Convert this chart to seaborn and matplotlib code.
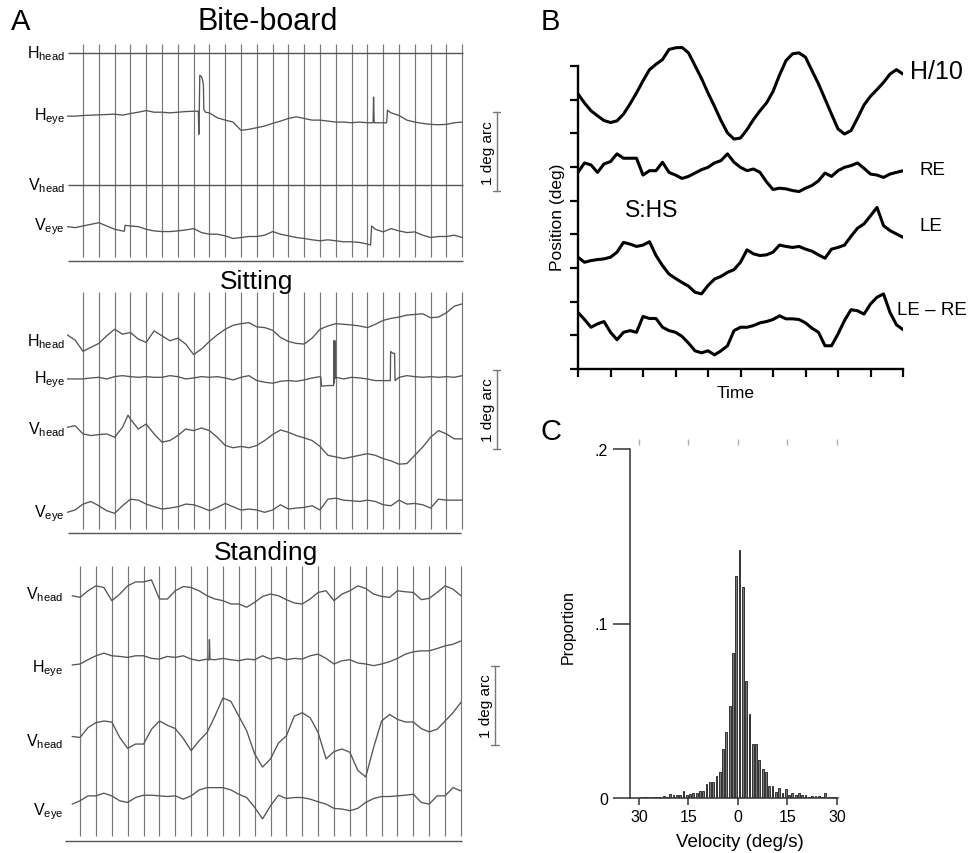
import numpy as np
import matplotlib
matplotlib.use('Agg')
import matplotlib.pyplot as plt
import seaborn as sns

# ── DATA ─────────────────────────────────────────────────────
# Panel A: chart-paper traces, offsets from each channel level in arc minutes
# sampled every half division (divisions 0..25)
t_half = np.arange(0, 25.01, 0.5)
bb_heye = [0, 0, 0.5, 0.75, 1, 1.25, 1.5, 0.75, 2, 3, 4.25, 3, 3, 2.5, 3, 3.5, 3.75, 30, 2.5,
           -1.25, -3, -4.5, -10.75, -10, -8.75, -7.5, -5.5, -3.75, -1.75, -0.5, -1.75, -3, -3,
           -3.75, -4.5, -4.5, -5, -4.5, -5, -5, -5, 2.5, 0.5, -3, -4.5, -5.5, -6.25, -6.5, -6.25,
           -5, -4.5]
bb_heye_spk_t = [8.30, 8.33, 8.36, 8.39, 8.58, 8.62, 8.65, 8.75, 19.36, 19.39, 19.43, 20.22, 20.27]
bb_heye_spk_v = [3.75, -13.75, 4, 31, 27, 23.5, 5, 3, -5, 14.5, -5, -5, 4.5]
bb_veye = [-0.5, -1.25, 0, 1.25, 2.5, 0, -2.5, -3.75, 0, -0.5, -2.5, -3.75, -4.25, -4.25, -3.75,
           -3, -2, -5, -6.25, -6.25, -7.5, -9.5, -8.75, -8, -8, -7, -4.25, -6.25, -7.5, -8.75,
           -9.5, -10.5, -11.25, -10.5, -11.25, -12, -12, -12.5, -13.75, -2.5, -4.5, -2, -3.75,
           -5, -4.5, -7, -8.75, -8, -8, -7, -8.75]
bb_veye_spk_t = [3.62, 3.66, 19.2, 19.27]
bb_veye_spk_v = [-4, 0.5, -14.5, 0]

sit_hhead = [4.5, 0.5, -8, -5, -2, 3.75, 8.75, 5, 6.25, 1.25, -1.25, 7.5, 3.75, 0, 2, -2.5, -10.5,
             -6.25, -0.5, 4.5, 8.75, 11.75, 13, 13.75, 10.5, 10, 8, 2.5, -0.5, -2, -2.5, 2, 8.75,
             11.25, 13, 12.5, 12, 11.25, 10, 12.5, 15.5, 17, 18, 19.5, 20, 20.5, 17.5, 18, 21.25,
             26.25, 28]
sit_heye = [0, 0, 0, 0.75, 1.25, 0, 1.75, 2.5, 1.75, 1.25, 1.75, 1.25, 1.25, 2.5, 1.75, 0, 0.75,
            1.75, 1.25, 1.75, 0.75, -0.75, 1.25, 2.5, -1.25, -2.5, -3.25, -1.75, -1.25, -1.75,
            -0.75, 0.75, 1.75, -5, 1.25, 0, 1.25, 0.75, 0, -1.25, -1.25, 20.5, 1.25, 2.5, 1.75,
            1.25, 1.75, 1.25, 1.75, 1.25, 2.5]
sit_heye_spk_t = [16.05, 16.1, 16.86, 16.88, 16.91, 16.94, 16.97, 20.45, 20.47, 20.6, 20.72, 20.75]
sit_heye_spk_v = [1.5, -5.5, -5, 29, -3, 29, 0.5, -1.25, 20.75, 19.5, 19.5, -1.25]
sit_vhead = [1.25, 2.5, -3.75, -5, -4.25, -3.75, -6.25, 1.25, 7.5, 0, 3.75, -3.75, -10, -8.75, -5,
             0, -1.25, 0.75, -1.25, -6.25, -12.5, -14.25, -13.25, -14.25, -12.5, -8.75, -4.25,
             -0.75, -2.5, -5, -6.75, -8.75, -13.25, -20, -21.25, -22.5, -21.25, -20, -18.75, -20,
             -22.5, -24.25, -26.75, -26.25, -20, -13.75, -6.25, -1.25, -3.75, -7.5, -7.5]
sit_vhead_spk_t = [3.85]
sit_vhead_spk_v = [10.5]
sit_veye = [0, 1.75, 6.25, 8.25, 5, 1.25, -0.75, 5, 10, 9.25, 6.25, 4.25, 2.5, 3.25, 4.25, 6.25,
            5.75, 3.75, 1.25, 3.75, 6.75, 4.25, 1.75, 2.5, 1.75, 0, 1.75, 5.75, 2.5, 3.25, 3.75,
            5, 1.75, 10, 10.75, 9.25, 8.75, 8.25, 9.25, 8.25, 5.75, 5, 9.25, 6.25, 6.75, 5.75,
            3.25, 10, 9.25, 9.25, 9.25]

t_stand = np.arange(0.5, 25.01, 0.5)
st_vhead1 = [-1.25, -2.5, 2.5, 6.25, 5, -5, 0, 6.25, 9.25, 9.25, 10.75, -3.75, -3.75, 2.5, 5.75,
             5, 2.5, -1.25, -3.75, -5, -7.5, -7.5, -10, -6.25, -1.75, 0, -1.25, -4.25, -6.75,
             -7.5, -3.75, 1.25, 2.5, -5, 0, 2.5, 6.25, 4.25, 0, -1.75, -2.5, 2.5, 1.75, 1.25,
             -4.25, -3.25, 1.25, 6.25, 3.75, -1.25]
st_heye = [1.75, 2.5, 5.75, 8.75, 10.75, 8.75, 8.25, 7.5, 8.75, 8.75, 6.75, 6.25, 8.25, 7.5, 8.75,
           6.25, 5, 6.25, 5.75, 6.75, 5.75, 5, 6.25, 5.75, 8.75, 6.25, 7.5, 5.75, 6.75, 6.25,
           8.75, 10, 6.75, 2.5, 5, 5.75, 3.25, 2.5, 1.25, 2.5, 4.25, 6.75, 10, 11.75, 12.5, 12.5,
           14.25, 16.25, 17.5, 20]
st_heye_spk_t = [9.12, 9.15, 9.19]
st_heye_spk_v = [5.5, 21, 6]
st_vhead2 = [3.25, 2.5, 10, 13.75, 15, 14.25, 2.5, -5.75, -2.5, -2.5, 8.75, 15, 11.75, 9.25, 1.75,
             -7.5, 0, 6.25, 18.75, 32.5, 30, 18.75, 7.5, -10, -20, -13.75, -1.75, 3.75, 18.75,
             21.25, 17.5, 6.25, -13.75, -8.25, -6.25, -8.75, -22.5, -27.5, -5, 15, 20, 16.25,
             14.25, 14.25, 9.25, 6.75, 8.75, 15, 21.25, 29.25]
st_veye = [5, 7.5, 11.25, 11.25, 13.25, 11.25, 7.5, 6.25, 10, 11.75, 11.75, 11.25, 10.75, 11.25,
           8.75, 11.25, 15.75, 17.5, 17.5, 17.5, 15.75, 12.5, 10, 2.5, -6.25, 3.75, 11.75, 9.25,
           10, 10, 8.75, 6.75, 5, 1.75, 1.25, 0, 1.75, 6.25, 9.25, 10.75, 10.75, 11.25, 11.75,
           12.5, 6.25, 5, 11.25, 11.25, 17.5, 15]
scale_arcmin = 60  # 1 deg arc

# Panel B: position traces (axis tick units), time 0..10
t_b = np.arange(0, 10.01, 0.2)
h_10 = [8.17, 7.90, 7.67, 7.52, 7.38, 7.32, 7.37, 7.57, 7.87, 8.20, 8.56, 8.89, 9.05, 9.19, 9.49,
        9.54, 9.55, 9.39, 9.01, 8.63, 8.20, 7.80, 7.38, 7.01, 6.83, 6.86, 7.11, 7.41, 7.67, 7.90,
        8.24, 8.73, 9.16, 9.36, 9.39, 9.26, 8.86, 8.47, 8.02, 7.57, 7.13, 6.98, 7.08, 7.45, 7.84,
        8.10, 8.30, 8.51, 8.76, 8.89, 8.76]
re = [5.84, 6.12, 6.06, 5.84, 6.09, 6.16, 6.39, 6.26, 6.26, 6.26, 5.76, 5.89, 5.89, 6.14, 5.84,
      5.76, 5.66, 5.72, 5.82, 5.92, 5.99, 6.12, 6.19, 6.39, 6.14, 5.99, 5.89, 5.94, 5.84, 5.56,
      5.33, 5.37, 5.35, 5.30, 5.27, 5.37, 5.45, 5.59, 5.82, 5.72, 5.89, 5.99, 6.04, 6.12, 5.96,
      5.79, 5.76, 5.69, 5.79, 5.84, 5.89]
le = [3.32, 3.17, 3.22, 3.25, 3.27, 3.32, 3.47, 3.76, 3.71, 3.64, 3.68, 3.78, 3.37, 3.07, 2.82,
      2.69, 2.57, 2.46, 2.28, 2.23, 2.48, 2.67, 2.75, 2.87, 2.95, 3.17, 3.54, 3.42, 3.37, 3.39,
      3.47, 3.68, 3.64, 3.61, 3.64, 3.56, 3.50, 3.39, 3.29, 3.56, 3.61, 3.68, 3.94, 4.18, 4.31,
      4.55, 4.80, 4.26, 4.11, 4.01, 3.91]
le_re = [1.68, 1.47, 1.24, 1.34, 1.41, 1.09, 0.87, 1.09, 1.14, 1.09, 1.56, 1.50, 1.50, 1.24, 1.14,
         1.09, 0.97, 0.77, 0.54, 0.48, 0.54, 0.42, 0.54, 0.69, 1.14, 1.24, 1.24, 1.29, 1.37, 1.41,
         1.47, 1.58, 1.49, 1.49, 1.47, 1.37, 1.21, 1.09, 0.69, 0.69, 1.04, 1.44, 1.76, 1.73, 1.63,
         1.93, 2.13, 2.23, 1.68, 1.31, 1.17]

# Panel C: velocity histogram, 1 deg/s bins from -30 to 30
vel_centers = np.arange(-29.5, 30, 1.0)
proportion = [0.0003, 0.0004, 0.0004, 0.0005, 0.0005, 0.0005, 0.0008, 0.0012, 0.0008, 0.0025,
              0.002, 0.002, 0.0015, 0.004, 0.002, 0.0025, 0.003, 0.003, 0.004, 0.0042,
              0.008, 0.009, 0.009, 0.0128, 0.015, 0.028, 0.0377, 0.053, 0.083, 0.127,
              0.142, 0.121, 0.067, 0.048, 0.031, 0.031, 0.022, 0.0166, 0.015, 0.007,
              0.007, 0.0035, 0.006, 0.003, 0.005, 0.002, 0.003, 0.0015, 0.003, 0.002,
              0.0015, 0.0005, 0.001, 0.001, 0.001, 0.0005, 0.003, 0.0005, 0.0003, 0.0003]
vel_ticks = [-30, -15, 0, 15, 30]
vel_ticklabels = ['30', '15', '0', '15', '30']

# ── STYLE ────────────────────────────────────────────────────
sns.set_theme(style='ticks')
plt.rcParams['font.family'] = ['Liberation Sans', 'DejaVu Sans']
plt.rcParams['mathtext.fontset'] = 'custom'
plt.rcParams['mathtext.rm'] = 'Liberation Sans'
plt.rcParams['mathtext.default'] = 'regular'
plt.rcParams['text.color'] = 'black'
plt.rcParams['axes.labelcolor'] = 'black'
plt.rcParams['xtick.labelcolor'] = 'black'
plt.rcParams['ytick.labelcolor'] = 'black'

W, H = 975, 854
fig = plt.figure(figsize=(W / 100, H / 100), dpi=100)
fig.patch.set_facecolor('white')


def px_axes(left, top, right, bottom):
    return fig.add_axes([left / W, 1 - bottom / H, (right - left) / W, (bottom - top) / H])


def ftext(x, y, s, **kw):
    fig.text(x / W, 1 - y / H, s, **kw)


def merged(t, v, st=(), sv=()):
    x = np.concatenate([np.asarray(t, float), np.asarray(st, float)])
    y = np.concatenate([np.asarray(v, float), np.asarray(sv, float)])
    o = np.argsort(x, kind='stable')
    return x[o], y[o]


PX_ARCMIN = 79 / 60
TRACE = '#555555'
GRID = '#777777'


def record_axes(g0_px, div_px, base_px, ytop):
    ax = px_axes(g0_px, base_px - ytop * PX_ARCMIN, g0_px + div_px * 25.1, base_px + 2 * PX_ARCMIN)
    ax.set_xlim(0, 25.1)
    ax.set_ylim(-2, ytop)
    ax.axis('off')
    return ax


def draw_trace(ax, t, vals, level, st=(), sv=()):
    x, y = merged(t, vals, st, sv)
    sns.lineplot(x=x, y=y + level, ax=ax, color=TRACE, lw=0.95, estimator=None, sort=False)


def scale_bar(ax, xg, y0, text_x):
    ax.plot([xg, xg], [y0, y0 + scale_arcmin], color=GRID, lw=1.0, clip_on=False)
    for yy in (y0, y0 + scale_arcmin):
        ax.plot([xg - 0.28, xg + 0.22], [yy, yy], color=GRID, lw=1.0, clip_on=False)
    ax.text(text_x, y0 + scale_arcmin / 2, '1 deg arc', rotation=90, ha='center', va='center',
            fontsize=11)


LAB = 11.5
H_HEAD = 'H$_{head}$'
H_EYE = 'H$_{eye}$'
V_HEAD = 'V$_{head}$'
V_EYE = 'V$_{eye}$'

# ── PANEL A — Bite-board ─────────────────────────────────────
ax1 = record_axes(67.2, 15.8, 262, 168)
ax1.vlines(np.arange(1, 26), 3, 165, color=GRID, lw=0.85)
ax1.hlines([0, 158, 57.7], 0.05, 25.05, color='#555555', lw=1.0)
draw_trace(ax1, t_half, bb_heye, 110, bb_heye_spk_t, bb_heye_spk_v)
draw_trace(ax1, t_half, bb_veye, 26.6, bb_veye_spk_t, bb_veye_spk_v)
for lev, lab in [(158, H_HEAD), (110, H_EYE), (57.7, V_HEAD), (26.6, V_EYE)]:
    ax1.text(-0.15, lev, lab, ha='right', va='center', fontsize=LAB)
scale_bar(ax1, 27.2, 53, 26.65)

# ── PANEL A — Sitting ────────────────────────────────────────
ax2 = record_axes(67.2, 15.8, 534, 190)
ax2.vlines(np.arange(1, 26), 3, 183, color=GRID, lw=0.85)
ax2.hlines(0, 0.05, 24.95, color='#555555', lw=1.0)
draw_trace(ax2, t_half, sit_hhead, 146)
draw_trace(ax2, t_half, sit_heye, 117, sit_heye_spk_t, sit_heye_spk_v)
draw_trace(ax2, t_half, sit_vhead, 79, sit_vhead_spk_t, sit_vhead_spk_v)
draw_trace(ax2, t_half, sit_veye, 15.7)
for lev, lab in [(146, H_HEAD), (117, H_EYE), (79, V_HEAD), (15.7, V_EYE)]:
    ax2.text(-0.15, lev, lab, ha='right', va='center', fontsize=LAB)
scale_bar(ax2, 27.2, 64, 26.65)

# ── PANEL A — Standing ───────────────────────────────────────
ax3 = record_axes(64.2, 15.87, 841.7, 212)
ax3.vlines(np.arange(1, 26), 3.6, 209, color=GRID, lw=0.85)
ax3.hlines(0, 0.05, 25.05, color='#555555', lw=1.0)
draw_trace(ax3, t_stand, st_vhead1, 187.3)
draw_trace(ax3, t_stand, st_heye, 131.7, st_heye_spk_t, st_heye_spk_v)
draw_trace(ax3, t_stand, st_vhead2, 75.9)
draw_trace(ax3, t_stand, st_veye, 22.8)
for lev, lab in [(187.3, V_HEAD), (131.7, H_EYE), (75.9, V_HEAD), (22.8, V_EYE)]:
    ax3.text(-0.05, lev, lab, ha='right', va='center', fontsize=LAB)
scale_bar(ax3, 27.15, 72.9, 26.6)

ftext(268, 22, 'Bite-board', fontsize=22, ha='center', va='center')
ftext(257, 282, 'Sitting', fontsize=19, ha='center', va='center')
ftext(266, 553, 'Standing', fontsize=19, ha='center', va='center')

# ── PANEL B — binocular traces ───────────────────────────────
axB = px_axes(578, 370 - 9.75 * 33.67, 903, 370)
for vals in (h_10, re, le, le_re):
    sns.lineplot(x=t_b, y=vals, ax=axB, color='black', lw=2.2, estimator=None)
axB.set_xlim(0, 10)
axB.set_ylim(0, 9.75)
axB.set_xticks(range(11))
axB.set_yticks(range(10))
axB.tick_params(direction='out', length=6, width=1.6, color='black',
                labelleft=False, labelbottom=False)
sns.despine(ax=axB)
axB.spines['left'].set_bounds(0, 9)
for s in ('left', 'bottom'):
    axB.spines[s].set_linewidth(1.7)
    axB.spines[s].set_color('black')
axB.set_ylabel('Position (deg)', fontsize=12.5)
axB.yaxis.set_label_coords(-0.04, 0.466)
axB.set_xlabel('Time', fontsize=12.5)
axB.xaxis.set_label_coords(0.485, -0.05)
axB.text(10.2, 8.85, 'H/10', fontsize=18, ha='left', va='center')
axB.text(10.52, 5.94, 'RE', fontsize=13.5, ha='left', va='center')
axB.text(10.52, 4.25, 'LE', fontsize=13.5, ha='left', va='center')
axB.text(9.82, 1.78, 'LE – RE', fontsize=13.5, ha='left', va='center')
axB.text(2.28, 4.75, 'S:HS', fontsize=16.5, ha='center', va='center')

# ── PANEL C — velocity histogram ─────────────────────────────
axC = px_axes(630, 450, 630 + 63 * 3.3, 799)
sns.histplot(x=vel_centers, weights=proportion, binwidth=1, binrange=(-30, 30), shrink=0.55,
             color='#7a7a7a', edgecolor='#333333', linewidth=0.7, alpha=1, ax=axC)
axC.set_xlim(-32.7, 30.3)
axC.set_ylim(0, 0.2)
axC.set_xticks(vel_ticks)
axC.set_xticklabels(vel_ticklabels, fontsize=11.5)
axC.set_yticks([0, 0.1, 0.2])
axC.set_yticklabels(['0', '.1', '.2'], fontsize=11.5)
axC.tick_params(axis='y', direction='out', length=12, width=1.1, color='#333333', pad=4)
axC.tick_params(axis='x', direction='out', length=5, width=1.1, color='#333333', pad=3)
sns.despine(ax=axC)
for s in ('left', 'bottom'):
    axC.spines[s].set_linewidth(1.1)
    axC.spines[s].set_color('#333333')
axC.set_ylabel('Proportion', fontsize=11.5)
axC.yaxis.set_label_coords(-0.262, 0.493)
axC.set_xlabel('Velocity (deg/s)', fontsize=13.5)
axC.xaxis.set_label_coords(0.53, -0.10)
sec = axC.secondary_xaxis(1.03)
sec.set_xticks(vel_ticks)
sec.tick_params(direction='in', length=4, width=1, color='#b0b0b0', labeltop=False)
for s in sec.spines.values():
    s.set_visible(False)

# ── PANEL LETTERS ────────────────────────────────────────────
ftext(21, 22, 'A', fontsize=21, ha='center', va='center')
ftext(550, 22, 'B', fontsize=21, ha='center', va='center')
ftext(551, 432, 'C', fontsize=21, ha='center', va='center')

fig.savefig('out.png', dpi=100, facecolor='white')
plt.close()
